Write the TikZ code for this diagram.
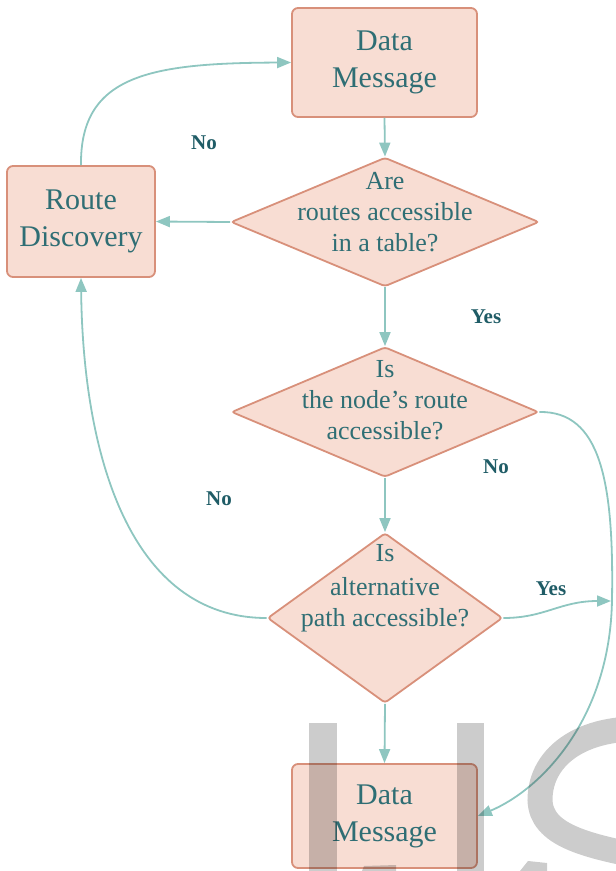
\documentclass[tikz,border=0pt]{standalone}
\usepackage{fontspec}
\setmainfont{Liberation Serif}
\usetikzlibrary{shapes.geometric,arrows.meta}
\definecolor{boxfill}{HTML}{F8DDD3}
\definecolor{boxline}{HTML}{D8907A}
\definecolor{txt}{HTML}{2F6E74}
\definecolor{lbl}{HTML}{1F5C66}
\definecolor{flow}{HTML}{8EC6C0}

\begin{document}
\begin{tikzpicture}[x=1pt,y=-1pt,
  procbox/.style={draw=boxline, fill=boxfill, line width=1.8pt, rounded corners=6pt,
    inner sep=0pt, text=txt, align=center, font=\fontsize{30}{37}\selectfont},
  decision/.style={diamond, draw=boxline, fill=boxfill, line width=1.8pt,
    rounded corners=3pt, inner sep=0pt},
  qtext/.style={text=txt, align=center, font=\fontsize{26}{31}\selectfont},
  flowline/.style={draw=flow, line width=1.8pt, -{Triangle[length=14pt,width=11pt]}},
  branch/.style={text=lbl, font=\fontsize{21}{24}\selectfont\bfseries},
  wmark/.style={fill=black, fill opacity=0.2, draw=none}]

\useasboundingbox (0,0) rectangle (616,871);

% process boxes
\node[procbox, minimum width=185pt, minimum height=109pt] (top) at (384.5,62.5) {Data\\Message};
\node[procbox, minimum width=148pt, minimum height=111pt] (rd) at (81,221.5) {Route\\Discovery};
\node[procbox, minimum width=185pt, minimum height=104pt] (bot) at (384.5,816) {Data\\Message};

% decisions
\node[decision, minimum width=308pt, minimum height=129pt] (d1) at (385,222) {};
\node[decision, minimum width=307pt, minimum height=130pt] (d2) at (385,412) {};
\node[decision, minimum width=235pt, minimum height=170pt] (d3) at (385,618) {};

\node[qtext] (q1) at (385,212) {Are\\routes accessible\\in a table?};
\node[qtext] (q2) at (385,400) {Is\\the node\symbol{"27}s route\\accessible?};
\node[qtext] (q3) at (385,588) {Is\\[3pt]alternative\\path accessible?};

% connectors
\draw[flowline] (top.south) -- (d1.north);
\draw[flowline] (d1.west) -- (rd.east);
\draw[flowline] (rd.north) .. controls (80,75) and (150,63) .. (top.west);
\draw[flowline] (d1.south) -- (d2.north);
\draw[flowline] (d2.south) -- (d3.north);
\draw[flowline] (d3.south) -- (bot.north);
\draw[flowline] (d3.west) .. controls (130,618) and (83,455) .. (rd.south);
\draw[flowline] (d2.east) .. controls (600,411) and (614,480) .. (612,600)
  .. controls (610,720) and (540,790) .. (bot.east);
\coordinate (join) at (611,601);
\draw[flowline] (d3.east) .. controls (545,618) and (560,601) .. (join);

% branch labels
\node[branch] (n1) at (204,143) {No};
\node[branch] (y1) at (486,317) {Yes};
\node[branch] (n2) at (496,467) {No};
\node[branch] (n3) at (219,499) {No};
\node[branch] (y2) at (551,589) {Yes};

% overlay lettering
\fill[wmark] (309,723) rectangle (337,871);
\fill[wmark] (457,723) rectangle (484,871);
\draw[draw=black, draw opacity=0.2, line width=25pt]
  (660,730) .. controls (585,722) and (540,755) .. (540,800)
  .. controls (541,835) and (585,846) .. (650,858);
\fill[wmark] (520,871) -- (528,861) -- (547,863) -- (547,871) -- cycle;
\fill[wmark] (362,871) -- (364,866) -- (396,865) -- (396,871) -- cycle;
\end{tikzpicture}
\end{document}
